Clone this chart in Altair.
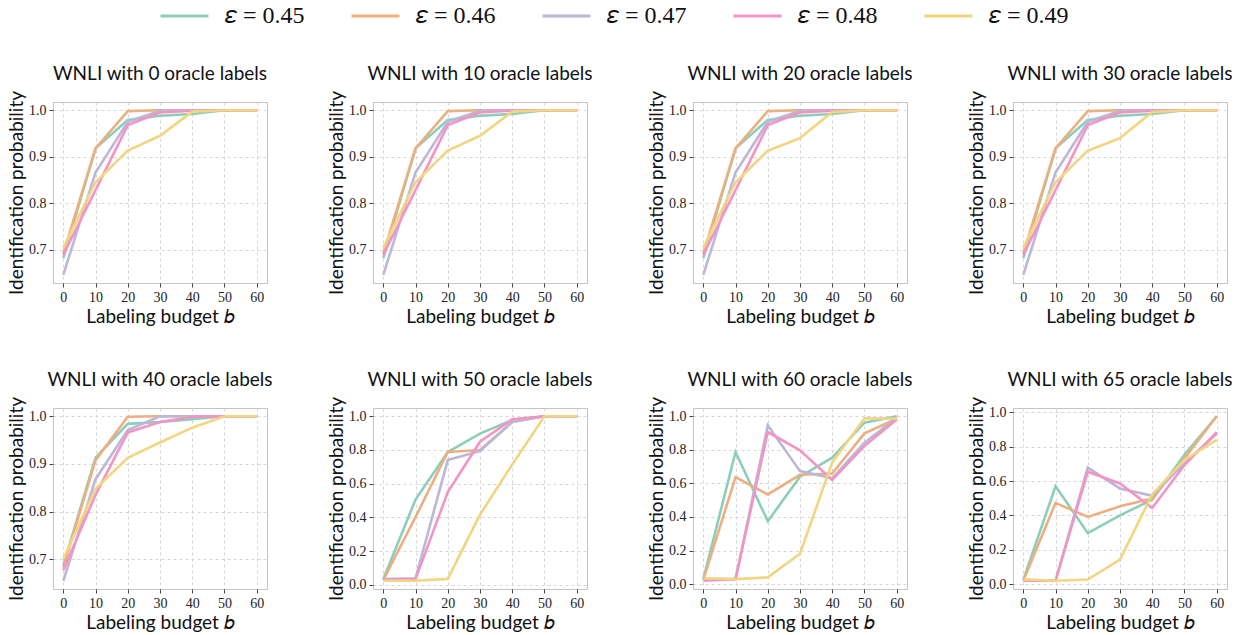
import altair as alt
import pandas as pd

budgets = [0, 10, 20, 30, 40, 50, 60]
oracle_labels = [0, 10, 20, 30, 40, 50, 60, 65]
eps_values = ["0.45", "0.46", "0.47", "0.48", "0.49"]
eps_labels = ["𝜀 = " + e for e in eps_values]
colors = ["#8dcebb", "#ecaf80", "#bab7d9", "#f394c4", "#f2d580"]

# identification probability per panel: one list per epsilon (0.45 ... 0.49)
p_o0 = [
    [0.682, 0.918, 0.979, 0.988, 0.992, 1.0, 1.0],
    [0.692, 0.918, 0.998, 1.0, 1.0, 1.0, 1.0],
    [0.646, 0.866, 0.975, 0.999, 1.0, 1.0, 1.0],
    [0.689, 0.828, 0.968, 0.995, 0.999, 1.0, 1.0],
    [0.704, 0.845, 0.913, 0.945, 0.997, 1.0, 1.0],
]
p_o10 = [
    [0.682, 0.918, 0.979, 0.988, 0.992, 1.0, 1.0],
    [0.692, 0.918, 0.998, 1.0, 1.0, 1.0, 1.0],
    [0.646, 0.866, 0.975, 0.999, 1.0, 1.0, 1.0],
    [0.689, 0.828, 0.968, 0.995, 0.999, 1.0, 1.0],
    [0.704, 0.845, 0.913, 0.945, 0.997, 1.0, 1.0],
]
p_o20 = [
    [0.682, 0.918, 0.979, 0.988, 0.992, 1.0, 1.0],
    [0.692, 0.918, 0.998, 1.0, 1.0, 1.0, 1.0],
    [0.646, 0.866, 0.975, 0.999, 1.0, 1.0, 1.0],
    [0.689, 0.828, 0.968, 0.995, 0.999, 1.0, 1.0],
    [0.704, 0.845, 0.913, 0.940, 0.996, 1.0, 1.0],
]
p_o30 = [
    [0.682, 0.918, 0.979, 0.988, 0.992, 1.0, 1.0],
    [0.692, 0.918, 0.998, 1.0, 1.0, 1.0, 1.0],
    [0.646, 0.866, 0.975, 0.999, 1.0, 1.0, 1.0],
    [0.689, 0.828, 0.968, 0.995, 0.999, 1.0, 1.0],
    [0.704, 0.845, 0.913, 0.940, 0.996, 1.0, 1.0],
]
p_o40 = [
    [0.688, 0.913, 0.984, 0.988, 0.994, 1.0, 1.0],
    [0.683, 0.908, 0.999, 1.0, 1.0, 1.0, 1.0],
    [0.655, 0.868, 0.971, 1.0, 1.0, 1.0, 1.0],
    [0.677, 0.835, 0.966, 0.988, 0.999, 1.0, 1.0],
    [0.701, 0.848, 0.913, 0.945, 0.976, 1.0, 1.0],
]
p_o50 = [
    [0.035, 0.506, 0.788, 0.897, 0.978, 1.0, 1.0],
    [0.030, 0.403, 0.788, 0.800, 0.966, 1.0, 1.0],
    [0.035, 0.040, 0.740, 0.794, 0.966, 1.0, 1.0],
    [0.030, 0.035, 0.550, 0.849, 0.982, 1.0, 1.0],
    [0.025, 0.025, 0.036, 0.417, 0.714, 1.0, 1.0],
]
p_o60 = [
    [0.030, 0.787, 0.375, 0.640, 0.753, 0.962, 1.0],
    [0.025, 0.637, 0.534, 0.651, 0.659, 0.898, 0.985],
    [0.030, 0.030, 0.946, 0.673, 0.630, 0.843, 0.990],
    [0.020, 0.030, 0.906, 0.797, 0.620, 0.823, 0.980],
    [0.035, 0.030, 0.040, 0.181, 0.725, 0.988, 0.985],
]
p_o65 = [
    [0.025, 0.570, 0.297, 0.400, 0.492, 0.752, 0.977],
    [0.020, 0.473, 0.391, 0.453, 0.498, 0.732, 0.977],
    [0.025, 0.020, 0.678, 0.557, 0.514, 0.703, 0.875],
    [0.020, 0.020, 0.654, 0.586, 0.443, 0.693, 0.885],
    [0.028, 0.020, 0.027, 0.143, 0.523, 0.723, 0.840],
]
panels = [p_o0, p_o10, p_o20, p_o30, p_o40, p_o50, p_o60, p_o65]

ticks_hi = [0.7, 0.8, 0.9, 1.0]
ticks_full = [0.0, 0.2, 0.4, 0.6, 0.8, 1.0]

PW, PH = 214, 181
SERIF = "Liberation Serif"


def make_panel(n, series):
    rows = []
    for lab, vals in zip(eps_labels, series):
        for b, v in zip(budgets, vals):
            rows.append({"b": b, "p": v, "eps": lab})
    df = pd.DataFrame(rows)
    lo, hi = df["p"].min(), df["p"].max()
    m = 0.05 * (hi - lo)
    yticks = ticks_hi if lo > 0.5 else ticks_full
    return alt.Chart(df, title=f"WNLI with {n} oracle labels").mark_line(
        strokeWidth=2.6
    ).encode(
        x=alt.X("b:Q", scale=alt.Scale(domain=[-3.2, 63.2], nice=False, zero=False),
                axis=alt.Axis(values=budgets, title="Labeling budget 𝑏", format="d")),
        y=alt.Y("p:Q", scale=alt.Scale(domain=[lo - m, hi + m], nice=False, zero=False),
                axis=alt.Axis(values=yticks, format=".1f", title="Identification probability")),
        color=alt.Color("eps:N", scale=alt.Scale(domain=eps_labels, range=colors),
                        sort=eps_labels,
                        legend=alt.Legend(title=None)),
        order=alt.Order("b:Q"),
    ).properties(width=PW, height=PH)


charts = [make_panel(n, s) for n, s in zip(oracle_labels, panels)]

chart = alt.concat(
    *charts, columns=4, bounds="flush",
    spacing=alt.RowColnumber(row=125, column=106),
).properties(
    padding={"left": 7, "right": 5, "top": 2, "bottom": 5}
).configure_axis(
    labelFont=SERIF,
    labelFontSize=14,
    labelColor="#222222",
    titleFont="Lato",
    titleFontSize=19,
    titleFontWeight="normal",
    titleColor="#111111",
    grid=True,
    gridDash=[3, 3],
    gridColor="#d6d6d6",
    domain=False,
    tickColor="#444444",
    tickSize=4,
    labelPadding=3,
).configure_axisX(
    titlePadding=3,
).configure_axisY(
    titlePadding=2,
).configure_view(
    stroke="#c4c4c4", strokeWidth=1
).configure_title(
    font="Lato", fontSize=19, fontWeight="normal", color="#111111", offset=7
).configure_legend(
    orient="none",
    legendX=106,
    legendY=-100,
    direction="horizontal",
    columns=5,
    symbolType="stroke",
    symbolSize=2304,
    symbolStrokeWidth=3,
    clipHeight=28,
    labelFont=SERIF,
    labelFontSize=24,
    labelColor="#111111",
    columnPadding=45,
    labelOffset=15,
)

chart.save("out.html", embed_options={"renderer": "svg", "actions": False})
